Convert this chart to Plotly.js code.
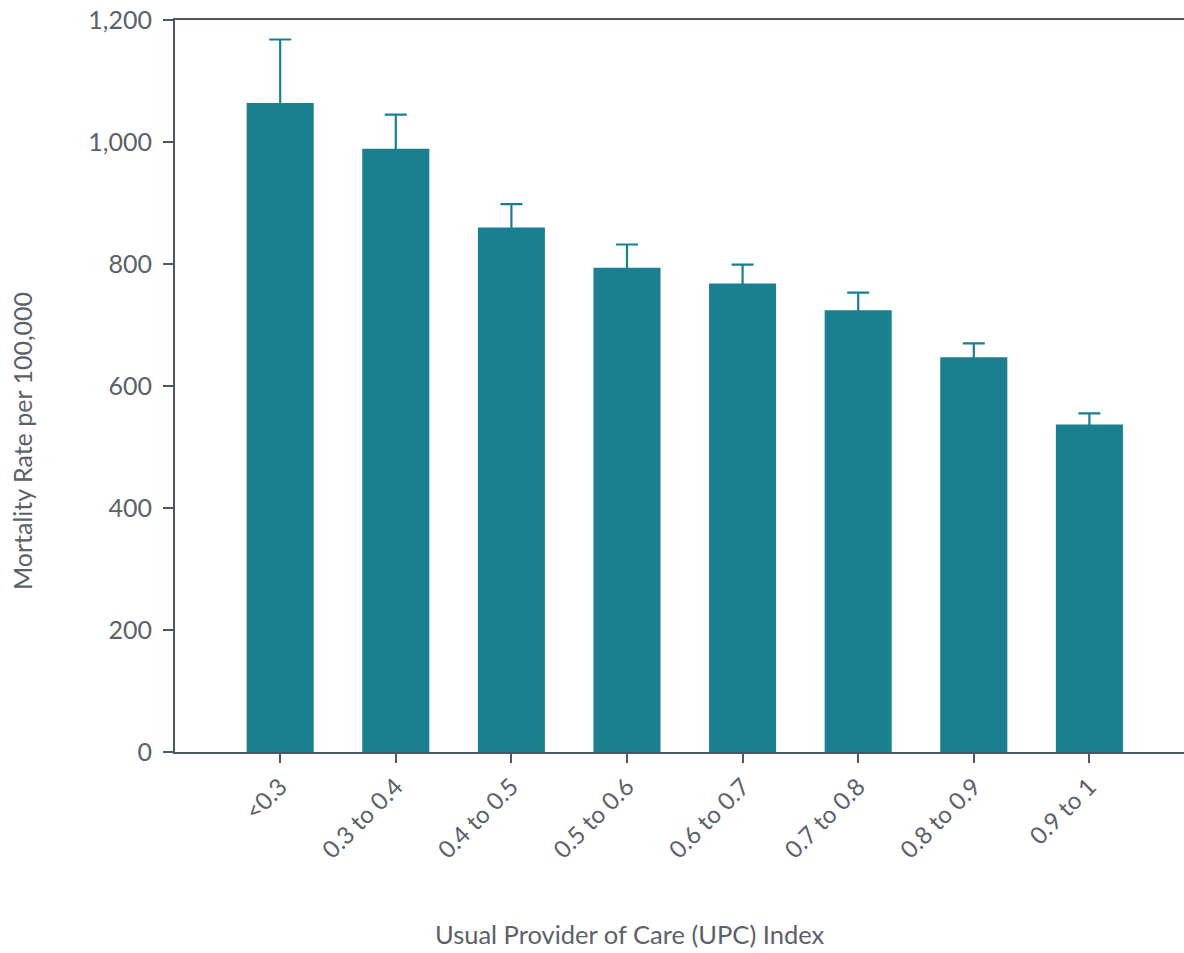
<!DOCTYPE html>
<html>
<head>
<meta charset="utf-8">
<script src="https://cdn.plot.ly/plotly-3.0.1.min.js"></script>
<style>html,body{margin:0;padding:0;background:#fff;overflow:hidden;}#chart{width:1184px;height:953px;overflow:hidden;}</style>
</head>
<body>
<div id="chart"></div>
<script>
const categories = ["<0.3", "0.3 to 0.4", "0.4 to 0.5", "0.5 to 0.6", "0.6 to 0.7", "0.7 to 0.8", "0.8 to 0.9", "0.9 to 1"];
const mortalityRate = [1064, 989, 860, 794, 768, 724, 647, 537];
const upperError = [104, 56, 38, 38, 31, 29, 23, 18];
const yTickValues = [0, 200, 400, 600, 800, 1000, 1200];
const yTickLabels = ["0", "200", "400", "600", "800", "1,000", "1,200"];
const xTitle = "Usual Provider of Care (UPC) Index";
const yTitle = "Mortality Rate per 100,000";

const teal = "#1a7f8e";
const axisColor = "#4d5864";
const textColor = "#5b6169";

const trace = {
  type: "bar",
  x: categories,
  y: mortalityRate,
  width: 0.58,
  marker: {color: teal, line: {width: 0}},
  error_y: {type: "data", symmetric: false, array: upperError, arrayminus: upperError.map(() => 6),
            color: teal, thickness: 2.2, width: 11},
  hoverinfo: "x+y"
};

const layout = {
  width: 1194, height: 953,
  margin: {l: 175, r: 0, t: 20, b: 201},
  paper_bgcolor: "#fff", plot_bgcolor: "#fff",
  font: {family: "Lato, 'Open Sans', sans-serif", color: textColor, size: 25},
  showlegend: false,
  xaxis: {
    type: "category",
    range: [-0.91, 7.905],
    tickangle: -45,
    showline: true, linecolor: axisColor, linewidth: 2, mirror: true,
    ticks: "outside", ticklen: 9, tickwidth: 2, tickcolor: axisColor,
    tickfont: {size: 24, color: textColor},
    showgrid: false, zeroline: false
  },
  yaxis: {
    range: [0, 1200],
    tickvals: yTickValues, ticktext: yTickLabels,
    showline: true, linecolor: axisColor, linewidth: 2,
    ticks: "outside", ticklen: 10, tickwidth: 2, tickcolor: axisColor,
    ticklabelstandoff: 6,
    tickfont: {size: 25, color: textColor},
    showgrid: false, zeroline: false
  },
  annotations: [
    {text: xTitle, xref: "paper", yref: "paper", x: 0.4465, y: -0.2486,
     xanchor: "center", yanchor: "middle", showarrow: false, borderpad: 0,
     font: {size: 25.5, color: textColor}},
    {text: yTitle, xref: "paper", yref: "paper", x: -0.150, y: 0.425, textangle: -90,
     xanchor: "center", yanchor: "middle", showarrow: false,
     font: {size: 25, color: textColor}}
  ]
};

Plotly.newPlot("chart", [trace], layout, {displayModeBar: false, staticPlot: true});
</script>
</body>
</html>
